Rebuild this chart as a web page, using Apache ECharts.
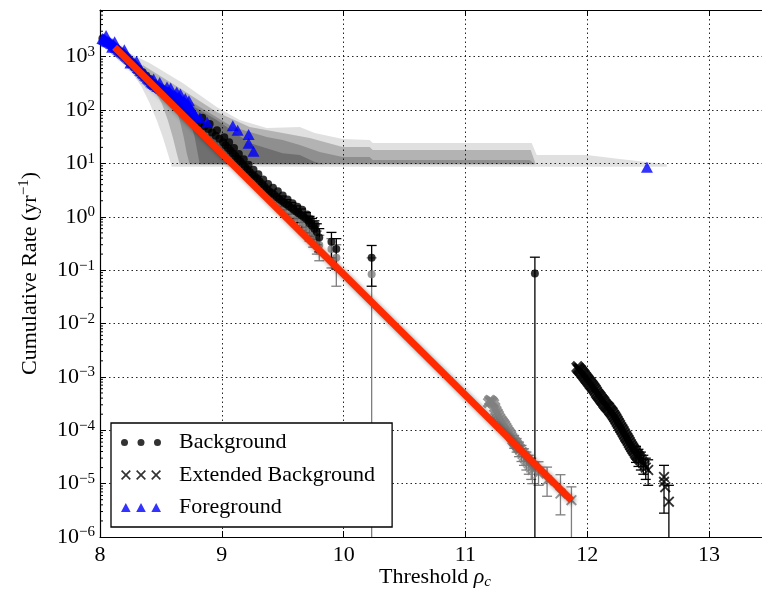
<!DOCTYPE html>
<html><head><meta charset="utf-8">
<script src="https://cdn.jsdelivr.net/npm/echarts@6/dist/echarts.min.js"></script>
<style>html,body{margin:0;padding:0;background:#fff}#c{width:762px;height:589px}</style>
</head><body><div id="c"></div>
<script>
const FONT = '"Liberation Serif", "DejaVu Serif", serif';

// ---- tick values ----
const xTicks = [8, 9, 10, 11, 12, 13];
const yDecades = [-6, -5, -4, -3, -2, -1, 0, 1, 2, 3];

// ---- Foreground (blue triangles) ----
const foreground = [
  [8.02,2190],[8.03,2140],[8.04,2090],[8.05,2000],[8.06,1950],[8.07,1900],[8.08,1860],[8.09,1780],[8.10,1740],[8.11,1660],
  [8.12,1580],[8.13,1510],[8.14,1450],[8.15,1380],[8.16,1320],[8.17,1260],[8.18,1230],[8.19,1170],[8.20,1120],[8.21,1070],
  [8.22,1020],[8.23,980],[8.24,930],[8.25,890],[8.26,830],[8.27,790],[8.28,760],[8.29,710],[8.30,680],[8.31,630],
  [8.32,600],[8.33,560],[8.34,540],[8.35,500],[8.36,480],[8.37,450],[8.38,430],[8.39,400],[8.40,380],[8.41,365],
  [8.42,340],[8.43,325],[8.44,315],[8.45,300],[8.46,295],[8.47,280],[8.48,275],[8.49,265],[8.50,255],[8.51,250],
  [8.52,240],[8.53,235],[8.54,225],[8.55,220],[8.56,215],[8.57,210],[8.58,205],[8.59,195],[8.60,190],[8.61,185],
  [8.62,178],[8.63,174],[8.64,166],[8.65,162],[8.66,155],[8.67,148],[8.68,145],[8.69,138],[8.70,132],[8.71,126],
  [8.72,120],[8.73,115],[8.74,110],[8.75,102],[8.76,95],[8.77,87],[8.78,79],[8.79,74],
  [8.05,2500],[8.12,1900],[8.20,1350],[8.30,820],[8.44,380],[8.49,330],[8.55,270],[8.58,260],[8.63,218],[8.66,200],
  [8.70,165],[8.73,150],[8.10,1500],[8.25,760],
  [8.82,72],[8.88,59],[9.09,51],[9.13,42],[9.22,35],[9.22,24],[9.26,17],[12.49,8.5]
];

// ---- Background (black dots) ----
const background = [
  [8.02,2200],[8.05,1950],[8.08,1750],[8.11,1550],[8.14,1380],[8.17,1200],[8.20,1050],[8.23,900],[8.26,780],[8.29,680],
  [8.32,590],[8.35,510],[8.38,440],[8.41,380],[8.44,320],[8.47,275],[8.50,235],[8.53,205],[8.56,178],[8.59,156],
  [8.62,138],[8.65,122],[8.68,108],[8.71,95],[8.74,84],[8.77,74],[8.80,65],[8.83,57],[8.84,72],[8.86,50],
  [8.89,44],[8.90,55],[8.92,38],[8.95,33],[8.96,42],[8.98,29],[9.01,25],[9.02,31],[9.03,22],[9.05,19.5],
  [9.06,25],[9.07,17.5],[9.09,15.5],[9.10,19.5],[9.11,13.8],[9.13,12.2],[9.14,15],[9.15,11],[9.17,9.8],[9.18,12],
  [9.19,8.7],[9.21,7.7],[9.22,9.4],[9.23,6.9],[9.25,6.2],[9.26,7.6],[9.27,5.7],[9.29,5.2],[9.30,6.3],[9.31,4.6],
  [9.33,4.1],[9.34,5.0],[9.35,3.7],[9.37,3.3],[9.38,4.1],[9.39,3.0],[9.41,2.8],[9.42,3.5],[9.43,2.6],[9.45,2.35],
  [9.46,3.0],[9.47,2.15],[9.49,2.0],[9.50,2.5],[9.51,1.85],[9.53,1.72],[9.54,2.1],[9.55,1.6],[9.57,1.48],[9.58,1.8],
  [9.59,1.36],[9.61,1.26],[9.62,1.55],[9.63,1.16],[9.65,1.08],[9.66,1.35],[9.67,1.0],[9.69,0.92],[9.70,1.1],[9.71,0.84],
  [9.72,0.76],[9.73,0.9],[9.74,0.68],[9.76,0.6],[9.77,0.7],[9.78,0.52],[9.80,0.41],[9.90,0.34],[9.94,0.25],[10.23,0.17],
  [11.57,0.087]
];
const backgroundErr = [ // [x, low, high]
  [9.49,1.55,2.45],[9.53,1.35,2.1],[9.57,1.12,1.85],[9.61,0.92,1.6],[9.65,0.78,1.4],[9.69,0.64,1.2],[9.72,0.5,1.02],
  [9.74,0.43,0.93],[9.76,0.38,0.84],[9.78,0.3,0.74],[9.80,0.22,0.6],[9.90,0.17,0.51],[9.94,0.105,0.39],[10.23,0.05,0.29],
  [11.57,1e-7,0.175]
];

// ---- Background, second estimate (grey dots) ----
const backgroundGrey = [
  [8.90,40],[8.95,32],[9.00,25],[9.05,19],[9.10,14],[9.15,10.5],[9.20,7.6],[9.25,5.8],[9.30,4.4],[9.34,3.5],
  [9.38,2.8],[9.42,2.3],[9.46,1.9],[9.50,1.6],[9.54,1.35],[9.58,1.12],[9.62,0.95],[9.66,0.8],[9.69,0.66],[9.72,0.55],
  [9.75,0.45],[9.78,0.36],[9.80,0.295],[9.90,0.248],[9.94,0.17],[10.23,0.084]
];
const backgroundGreyErr = [
  [9.62,0.68,1.25],[9.66,0.55,1.07],[9.69,0.44,0.9],[9.72,0.35,0.77],[9.75,0.27,0.65],[9.78,0.2,0.54],[9.80,0.15,0.45],
  [9.90,0.11,0.39],[9.94,0.05,0.3],[10.23,1e-7,0.17]
];

// ---- Extended background (black crosses): dense run and sparse tail ----
const extendedDense = [
  [11.92,1.51e-3],[11.93,1.41e-3],[11.94,1.35e-3],[11.95,1.26e-3],[11.96,1.17e-3],[11.97,1.10e-3],[11.98,1.02e-3],[11.99,9.5e-4],
  [12.00,8.9e-4],[12.01,8.3e-4],[12.02,7.8e-4],[12.03,7.2e-4],[12.04,6.8e-4],[12.05,6.3e-4],[12.06,5.9e-4],[12.07,5.4e-4],
  [12.08,4.9e-4],[12.09,4.6e-4],[12.10,4.3e-4],[12.11,4.0e-4],[12.12,3.7e-4],[12.13,3.5e-4],[12.14,3.2e-4],[12.15,3.0e-4],
  [12.16,2.8e-4],[12.17,2.7e-4],[12.18,2.5e-4],[12.19,2.3e-4],[12.20,2.2e-4],[12.21,2.0e-4],[12.22,1.86e-4],[12.23,1.70e-4],
  [12.24,1.55e-4],[12.25,1.41e-4],[12.26,1.29e-4],[12.27,1.17e-4],[12.28,1.07e-4],[12.29,9.8e-5],[12.30,8.9e-5],[12.31,8.1e-5],
  [12.32,7.4e-5],[12.33,6.8e-5],[12.34,6.2e-5],[12.35,5.6e-5],[12.36,5.1e-5],[12.37,4.7e-5],[12.38,4.3e-5],[12.39,4.0e-5],
  [12.40,3.6e-5],[12.41,3.4e-5],[12.42,3.2e-5],[12.43,2.95e-5]
];
const extendedTail = [
  [12.44,2.75e-5],[12.45,2.6e-5],[12.46,2.4e-5],[12.47,2.2e-5],[12.48,2.0e-5],[12.50,1.8e-5],
  [12.63,1.33e-5],[12.63,1.08e-5],[12.64,8.6e-6],[12.67,4.6e-6]
];
const extendedErr = [
  [12.40,2.5e-5,5e-5],[12.42,2.1e-5,4.4e-5],[12.44,1.8e-5,3.9e-5],[12.46,1.5e-5,3.4e-5],[12.48,1.2e-5,3.0e-5],
  [12.50,9.3e-6,2.8e-5],[12.63,2.8e-6,2.2e-5],[12.67,1e-7,9.3e-6]
];

// ---- Extended background, second estimate (grey crosses) ----
const extendedGreyDense = [
  [11.19,3.31e-4],[11.20,3.63e-4],[11.21,3.55e-4],[11.22,3.39e-4],[11.23,3.16e-4],[11.24,2.69e-4],[11.25,2.34e-4],[11.26,2.09e-4],
  [11.27,1.91e-4],[11.28,1.70e-4],[11.29,1.55e-4],[11.30,1.45e-4],[11.31,1.35e-4],[11.32,1.26e-4],[11.33,1.15e-4],[11.34,1.05e-4],
  [11.35,9.5e-5],[11.36,8.9e-5],[11.37,8.1e-5],[11.38,7.4e-5],[11.39,6.6e-5],[11.40,6.2e-5],[11.41,5.8e-5],[11.42,5.4e-5],
  [11.43,5.0e-5],[11.44,4.6e-5]
];
const extendedGreyTail = [
  [11.45,4.3e-5],[11.46,3.9e-5],[11.47,3.6e-5],[11.48,3.3e-5],[11.49,3.0e-5],[11.50,2.8e-5],
  [11.51,2.6e-5],[11.52,2.4e-5],[11.53,2.2e-5],[11.54,2.0e-5],[11.55,1.8e-5],[11.60,1.55e-5],[11.67,1.15e-5],[11.78,6.5e-6],
  [11.87,4.9e-6]
];
const extendedGreyErr = [
  [11.40,4.6e-5,8e-5],[11.42,3.9e-5,7e-5],[11.44,3.2e-5,6e-5],[11.46,2.6e-5,5.2e-5],[11.48,2.2e-5,4.5e-5],
  [11.50,1.8e-5,3.9e-5],[11.52,1.5e-5,3.4e-5],[11.54,1.2e-5,3.0e-5],[11.55,1.0e-5,2.6e-5],[11.60,9.3e-6,2.57e-5],
  [11.67,5.8e-6,2.04e-5],[11.78,2.6e-6,1.47e-5],[11.87,1e-7,8.7e-6]
];

// ---- Fit line (red) ----
const fitLine = [[8.12,1500],[11.87,4.9e-6]];

// ---- Confidence bands (outline rings: upper edge then lower edge) ----
const band0 = [
  [8.186,1336],[8.407,762],[8.679,321],[8.958,114],[9.147,65],[9.369,46],[9.640,48],[9.763,37],[9.993,28.7],[10.214,27.4],
  [10.239,24.1],[11.544,24.1],[11.585,14.4],[11.996,14.4],[12.267,12.1],[12.653,9.7],
  [12.653,8.7],[8.589,8.7],[8.556,15.6],[8.515,31.2],[8.465,65],[8.407,135],[8.342,270],[8.268,494],[8.186,867]
];
const band1 = [
  [8.350,699],[8.679,238],[8.958,91.9],[9.229,48.1],[9.500,37.1],[9.722,29.9],[9.993,20.3],[10.214,20.3],[10.239,17.8],
  [11.536,17.8],[11.577,9.7],
  [8.654,9.7],[8.630,15.6],[8.597,31.2],[8.556,65],[8.506,135],[8.432,270],[8.350,494]
];
const band2 = [
  [8.465,365],[8.819,114],[9.090,48.1],[9.369,31.2],[9.500,27.4],[9.640,22.1],[9.804,16.3],[9.993,13.2],[10.214,13.2],
  [10.239,11.6],[11.528,11.6],[11.569,9.7],
  [8.736,9.7],[8.712,15.6],[8.687,31.2],[8.654,65],[8.605,135],[8.547,238]
];
const band3 = [
  [8.638,176],[8.958,65],[9.229,24.1],[9.500,15.6],[9.640,14.4],[9.763,10.6],[9.846,9.7],
  [8.819,9.7],[8.802,15.6],[8.777,31.2],[8.736,65],[8.695,114]
];

// minor tick values for the log axis (2..9 x 10^d)
const minorTicks = [];
yDecades.forEach(d => { for (let k = 2; k <= 9; k++) { const v = k * Math.pow(10, d); if (v <= 7500) minorTicks.push([8, v]); } });

function crossAt(o, t) {
  const p = [[0,t],[t,0],[5,5-t],[10-t,0],[10,t],[5+t,5],[10,10-t],[10-t,10],[5,5+t],[t,10],[0,10-t],[5-t,5]];
  return 'M' + p.map(q => (q[0] + o) + ',' + q[1]).join('L') + 'Z';
}
const crossPath = 'path://' + crossAt(0, 1.2);
const crossBold = 'path://' + crossAt(0, 2.2);
const dotsIcon = 'path://M0,3.25A3.25,3.25,0,1,1,6.5,3.25A3.25,3.25,0,1,1,0,3.25Z' +
  'M15.3,3.25A3.25,3.25,0,1,1,21.8,3.25A3.25,3.25,0,1,1,15.3,3.25Z' +
  'M30.6,3.25A3.25,3.25,0,1,1,37.1,3.25A3.25,3.25,0,1,1,30.6,3.25Z';
const triIcon = 'path://M0,9L4.85,0L9.7,9Z M15.3,9L20.15,0L25,9Z M30.6,9L35.45,0L40.3,9Z';
const crossIcon = 'path://' + crossAt(0, 1.2) + crossAt(15.3, 1.2) + crossAt(30.6, 1.2);

function bandSeries(pts, color) {
  return {
    type: 'custom', name: 'band', clip: true, silent: true, z: 1,
    data: [pts[0]], encode: { x: 0, y: 1 },
    renderItem: (params, api) => ({
      type: 'polygon',
      shape: { points: pts.map(p => api.coord(p)) },
      style: { fill: color }
    })
  };
}
function errSeries(name, rows, color) {
  return {
    type: 'custom', name: name, clip: true, silent: true,
    data: rows, encode: { x: 0, y: [1, 2] },
    renderItem: (params, api) => {
      const x = api.value(0), lo = api.value(1), hi = api.value(2);
      const a = api.coord([x, hi]), b = api.coord([x, lo]);
      const w = 5, st = { stroke: color, lineWidth: 1.3 };
      return { type: 'group', children: [
        { type: 'line', shape: { x1: a[0], y1: a[1], x2: b[0], y2: b[1] }, style: st },
        { type: 'line', shape: { x1: a[0] - w, y1: a[1], x2: a[0] + w, y2: a[1] }, style: st },
        { type: 'line', shape: { x1: b[0] - w, y1: b[1], x2: b[0] + w, y2: b[1] }, style: st }
      ]};
    }
  };
}
function scatter(name, data, symbol, size, color) {
  return { type: 'scatter', name: name, data: data, symbol: symbol, symbolSize: size, itemStyle: { color: color }, silent: true };
}

const sup = (s) => '{b|10}{s|' + s + '}';
const splitStyle = { show: true, lineStyle: { color: '#000', width: 1, type: [1.5, 3], opacity: 0.85 } };

const option = {
  animation: false,
  backgroundColor: '#fff',
  grid: { show: false, left: 100, right: -8, top: 10, bottom: 52, containLabel: false, outerBoundsMode: 'none' },
  legend: {
    data: [
      { name: 'Background', icon: dotsIcon },
      { name: 'Extended Background', icon: crossIcon },
      { name: 'Foreground', icon: triIcon }
    ],
    orient: 'vertical', left: 111, top: 423,
    itemWidth: 40, itemHeight: 10, itemGap: 7.5,
    padding: [7, 17, 7, 10],
    backgroundColor: '#fff', borderColor: '#000', borderWidth: 1.3, borderRadius: 0,
    selectedMode: false, z: 10,
    textStyle: { fontFamily: FONT, fontSize: 22, color: '#000', lineHeight: 25, padding: [0, 0, 0, 13] }
  },
  xAxis: [{
    type: 'value', min: 8, max: 13.5, interval: 1, position: 'bottom',
    axisLine: { show: true, onZero: false, lineStyle: { color: '#000', width: 1.2 } },
    axisTick: { show: true, inside: true, length: 6, lineStyle: { color: '#000' } },
    axisLabel: { fontFamily: FONT, fontSize: 22, color: '#000', margin: 7,
      formatter: v => (xTicks.indexOf(v) >= 0 ? String(v) : '') },
    splitLine: splitStyle,
    name: 'Threshold {i|ρ}{c|c}', nameLocation: 'middle', nameGap: 27, nameMoveOverlap: false,
    nameTextStyle: { fontFamily: FONT, fontSize: 22, color: '#000', lineHeight: 26,
      rich: { i: { fontFamily: FONT, fontSize: 22, fontStyle: 'italic', color: '#000', lineHeight: 26 },
              c: { fontFamily: FONT, fontSize: 15, fontStyle: 'italic', color: '#000', verticalAlign: 'bottom', lineHeight: 10 } } }
  }, {
    type: 'value', min: 8, max: 13.5, interval: 1, position: 'top',
    axisLine: { show: true, onZero: false, lineStyle: { color: '#000', width: 1.2 } },
    axisTick: { show: true, inside: true, length: 6, lineStyle: { color: '#000' } },
    axisLabel: { show: false }, splitLine: { show: false }
  }],
  yAxis: {
    type: 'log', logBase: 10, min: 1e-6, max: 7500, splitNumber: 10,
    axisLine: { show: true, onZero: false, lineStyle: { color: '#000', width: 1.2 } },
    axisTick: { show: true, inside: true, length: 6, lineStyle: { color: '#000' } },
    axisLabel: {
      showMaxLabel: false, margin: 5, color: '#000',
      formatter: v => { const e = Math.round(Math.log10(v)); if (Math.abs(Math.log10(v) - e) > 0.01) return ''; return sup(String(e).replace('-', '−')); },
      rich: { b: { fontFamily: FONT, fontSize: 22, color: '#000', lineHeight: 24 },
              s: { fontFamily: FONT, fontSize: 15, color: '#000', verticalAlign: 'top', lineHeight: 12 } }
    },
    splitLine: splitStyle,
    name: 'Cumulative Rate (yr{s|−1})', nameLocation: 'middle', nameGap: 57, nameRotate: 90, nameMoveOverlap: false,
    nameTextStyle: { fontFamily: FONT, fontSize: 22, color: '#000', lineHeight: 26,
      rich: { s: { fontFamily: FONT, fontSize: 15, color: '#000', verticalAlign: 'top', lineHeight: 12 } } }
  },
  series: [
    bandSeries(band0, 'rgba(0,0,0,0.12)'),
    bandSeries(band1, 'rgba(0,0,0,0.2)'),
    bandSeries(band2, 'rgba(0,0,0,0.2)'),
    bandSeries(band3, 'rgba(0,0,0,0.22)'),
    {
      type: 'custom', name: 'minor', silent: true, clip: false,
      data: minorTicks, encode: { x: 0, y: 1 },
      renderItem: (params, api) => { const p = api.coord([api.value(0), api.value(1)]);
        return { type: 'line', shape: { x1: p[0], y1: p[1], x2: p[0] + 3, y2: p[1] }, style: { stroke: '#000', lineWidth: 1 } }; }
    },
    errSeries('bgGreyErr', backgroundGreyErr, '#7f7f7f'),
    scatter('Background (grey)', backgroundGrey, 'circle', 8, '#7f7f7f'),
    errSeries('extGreyErr', extendedGreyErr, '#7f7f7f'),
    scatter('Extended Background (grey)', extendedGreyDense, crossBold, 12, '#7f7f7f'),
    scatter('Extended Background (grey)', extendedGreyTail, crossPath, 11, '#7f7f7f'),
    errSeries('bgErr', backgroundErr, '#000'),
    scatter('Background', background, 'circle', 8, '#000'),
    errSeries('extErr', extendedErr, '#000'),
    scatter('Extended Background', extendedTail, crossPath, 11, '#000'),
    scatter('Extended Background', extendedDense, crossBold, 13, '#000'),
    scatter('Foreground', foreground, 'triangle', [12, 11], '#0000ff'),
    { type: 'line', name: 'fit', data: fitLine, showSymbol: false, symbol: 'none', silent: true,
      lineStyle: { color: '#ff2a00', width: 7, cap: 'butt', shadowColor: 'rgba(0,0,0,0.45)', shadowBlur: 4, shadowOffsetX: 2, shadowOffsetY: 2 } }
  ]
};

const chart = echarts.init(document.getElementById('c'), null, { renderer: 'canvas' });
chart.setOption(option);
</script>
</body></html>
